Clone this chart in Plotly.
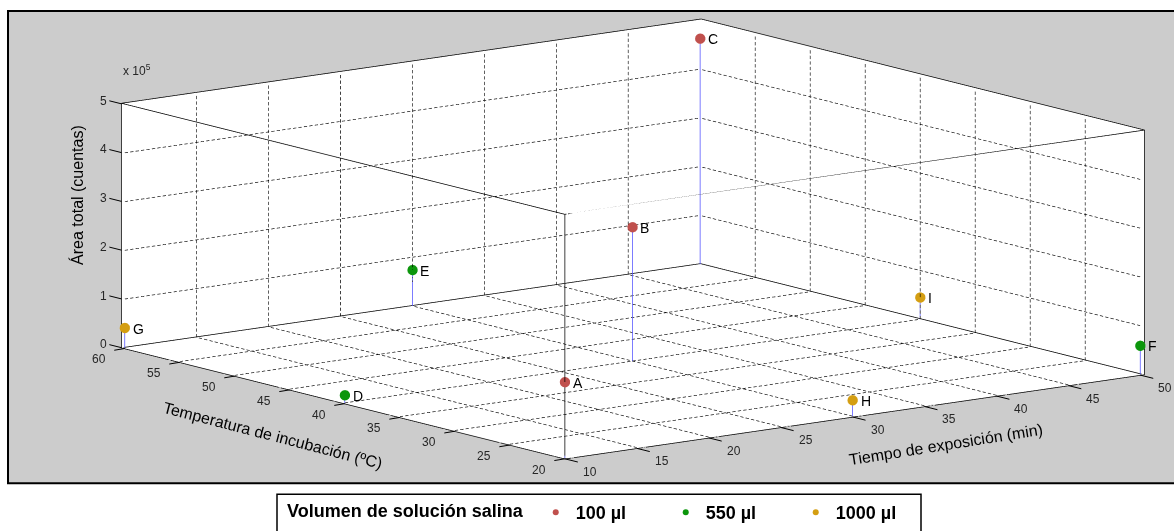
import numpy as np
import plotly.graph_objects as go

# Taguchi L9 runs: exposure time (min), incubation temperature (ºC), total area (counts)
labels = ["A", "B", "C", "D", "E", "F", "G", "H", "I"]
tiempo = [10, 30, 50, 10, 30, 50, 10, 30, 50]
temperatura = [20, 40, 60, 40, 60, 20, 60, 20, 40]
area = [1.56e5, 2.75e5, 4.63e5, 0.16e5, 0.74e5, 0.59e5, 0.41e5, 0.33e5, 0.45e5]
volumen = ["100 µl", "100 µl", "100 µl", "550 µl", "550 µl", "550 µl",
           "1000 µl", "1000 µl", "1000 µl"]

volumenes = ["100 µl", "550 µl", "1000 µl"]
colores = {"100 µl": "#c0504d", "550 µl": "#0c960c", "1000 µl": "#d49e12"}

x_ticks = [10, 15, 20, 25, 30, 35, 40, 45, 50]
y_ticks = [20, 25, 30, 35, 40, 45, 50, 55, 60]
z_ticks = [0, 1e5, 2e5, 3e5, 4e5, 5e5]
z_ticktext = ["0", "1", "2", "3", "4", "5"]

W, H = 1174, 531
FONT = "Liberation Sans, Arial, sans-serif"

x0, x1 = x_ticks[0], x_ticks[-1]
y0, y1 = y_ticks[0], y_ticks[-1]
z0, z1 = z_ticks[0], z_ticks[-1]

# back walls sit just beyond the last tick so points on them stay whole
pad_xy, pad_z = 0.3, 0.02e5
x1p, y1p = x1 + pad_xy, y1 + pad_xy

# dashed grid on the back walls and floor, built as short segments
gx, gy, gz = [], [], []
def dashed(p, q, n, on=0.6):
    p, q = np.array(p, float), np.array(q, float)
    for k in range(n):
        a = p + (q - p) * (k / n)
        b = p + (q - p) * ((k + on) / n)
        gx.extend([a[0], b[0], None]); gy.extend([a[1], b[1], None]); gz.extend([a[2], b[2], None])

N_X, N_Y, N_Z = 106, 83, 44   # dashes per grid line along each axis
for xv in x_ticks[1:-1]:
    dashed((xv, y1, z0), (xv, y1, z1), N_Z)      # wall at max temperature
    dashed((xv, y0, z0), (xv, y1, z0), N_Y)      # floor
for yv in y_ticks[1:-1]:
    dashed((x1, yv, z0), (x1, yv, z1), N_Z)      # wall at max time
    dashed((x0, yv, z0), (x1, yv, z0), N_X)      # floor
for zv in z_ticks[1:-1]:
    dashed((x0, y1, zv), (x1, y1, zv), N_X)
    dashed((x1, y0, zv), (x1, y1, zv), N_Y)

fig = go.Figure()
fig.add_trace(go.Scatter3d(x=gx, y=gy, z=gz, mode="lines",
                           line=dict(color="black", width=1.3),
                           hoverinfo="skip", showlegend=False))

# front box edges and the floor's back edges
ex, ey, ez = [], [], []
yb, xb = y1 + pad_xy*0.35, x1 + pad_xy*0.35
for p, q in [((x0, y0, z1), (x0, y1p, z1)), ((x0, y0, z1), (x1p, y0, z1)),
             ((x0, y0, z0), (x0, y0, z1)),
             ((x0, yb, z0), (xb, yb, z0)), ((xb, y0, z0), (xb, yb, z0))]:
    ex.extend([p[0], q[0], None]); ey.extend([p[1], q[1], None]); ez.extend([p[2], q[2], None])
fig.add_trace(go.Scatter3d(x=ex, y=ey, z=ez, mode="lines",
                           line=dict(color="black", width=1.5),
                           hoverinfo="skip", showlegend=False))

# stems
sx, sy, sz = [], [], []
for t, T, a in zip(tiempo, temperatura, area):
    sx.extend([t, t, None]); sy.extend([T, T, None]); sz.extend([0, a, None])
fig.add_trace(go.Scatter3d(x=sx, y=sy, z=sz, mode="lines",
                           line=dict(color="#5050ff", width=1.5),
                           hoverinfo="skip", showlegend=False))

# markers per saline volume
for v in volumenes:
    idx = [i for i, vv in enumerate(volumen) if vv == v]
    fig.add_trace(go.Scatter3d(
        x=[tiempo[i] for i in idx], y=[temperatura[i] for i in idx],
        z=[area[i] for i in idx], mode="markers", name=v,
        marker=dict(size=6, color=colores[v], line=dict(width=0)),
        hoverinfo="skip"))

# point letters, tick labels and tick marks, anchored in 3D and drawn flat on screen
notes = [dict(x=t, y=T, z=a, text=l, showarrow=False, xanchor="left",
              yanchor="middle", xshift=6,
              font=dict(family=FONT, size=14, color="black"))
         for l, t, T, a in zip(labels, tiempo, temperatura, area)]
tick_font = dict(family=FONT, size=12, color="#262626")
notes += [dict(x=x0, y=v, z=z0, text=str(v), showarrow=False, xanchor="center",
               yanchor="middle", xshift=-26, yshift=-11, font=tick_font) for v in y_ticks]
notes += [dict(x=v, y=y0, z=z0, text=str(v), showarrow=False, xanchor="center",
               yanchor="middle", xshift=25, yshift=-13, font=tick_font) for v in x_ticks]
notes += [dict(x=x0, y=y1, z=v, text=s, showarrow=False, xanchor="center",
               yanchor="middle", xshift=-21, yshift=4, font=tick_font)
          for v, s in zip(z_ticks, z_ticktext)]

def tick_mark(x, y, z, ax, ay):
    return dict(x=x, y=y, z=z, text=" ", font=dict(size=1), showarrow=True,
                arrowhead=0, arrowwidth=1, arrowcolor="black", ax=ax, ay=ay, standoff=0)

notes += [tick_mark(x0, v, z0, -12, 2) for v in y_ticks]
notes += [tick_mark(v, y0, z0, 14.5, 3.6) for v in x_ticks]
notes += [tick_mark(x0, y1p, v, -13.6, -3.4) for v in z_ticks]

# side edges and back top edges come from the axes; their own ticks stay invisible
axis_common = dict(showgrid=False, zeroline=False, showline=True, linecolor="black",
                   linewidth=1.5, mirror="all", ticks="outside", ticklen=0,
                   tickcolor="rgba(0,0,0,0)", showticklabels=True,
                   tickfont=dict(family=FONT, size=12, color="rgba(0,0,0,0)"),
                   showbackground=True, backgroundcolor="white", showspikes=False,
                   title=dict(text=""))

# view direction: azimuth ~232.7°, elevation ~11°
th, ph = np.radians(11.0), np.radians(232.7)
r = 8.0
eye = dict(x=r*np.cos(th)*np.cos(ph), y=r*np.cos(th)*np.sin(ph), z=r*np.sin(th))
zoom = 3.075

# scene viewport: 1082 x 477 px, centred where the box centre should land
cx, cy, half_w, half_h = 633, 241, 541, 238.5

# legend frame (the legend itself is borderless and sits inside it)
leg_l, leg_r, leg_t = 277, 921, 497

fig.update_layout(
    width=W, height=H, margin=dict(l=0, r=0, t=0, b=0),
    paper_bgcolor="white",
    scene=dict(
        domain=dict(x=[(cx-half_w)/W, (cx+half_w)/W],
                    y=[1-(cy+half_h)/H, 1-(cy-half_h)/H]),
        xaxis=dict(axis_common, range=[x0, x1p], tickvals=x_ticks),
        yaxis=dict(axis_common, range=[y0, y1p], tickvals=y_ticks),
        zaxis=dict(axis_common, range=[z0-pad_z, z1], tickvals=z_ticks),
        aspectmode="manual",
        aspectratio=dict(x=zoom, y=zoom*1.004, z=zoom*0.342),
        camera=dict(eye=eye, center=dict(x=0, y=0, z=0), up=dict(x=0, y=0, z=1),
                    projection=dict(type="orthographic")),
        bgcolor="rgba(0,0,0,0)",
        annotations=notes,
    ),
    shapes=[dict(type="rect", xref="paper", yref="paper", layer="below",
                 x0=8/W, x1=1.01, y0=1-486/H, y1=1-11/H,
                 fillcolor="#cccccc", line=dict(color="black", width=2)),
            dict(type="rect", xref="paper", yref="paper", layer="below",
                 x0=leg_l/W, x1=leg_r/W, y0=-0.05, y1=1-leg_t/H,
                 fillcolor="white", line=dict(color="black", width=1.5))],
    annotations=[
        dict(text="x 10<sup>5</sup>", x=137/W, y=1-70/H, xref="paper", yref="paper",
             xanchor="center", yanchor="middle",
             showarrow=False, font=dict(family=FONT, size=12, color="#262626")),
        dict(text="Área total (cuentas)", x=77/W, y=1-196/H, xref="paper", yref="paper",
             xanchor="center", yanchor="middle",
             textangle=-90, showarrow=False, font=dict(family=FONT, size=16, color="black")),
        dict(text="Temperatura de incubación (ºC)", x=273/W, y=1-438/H, xref="paper", yref="paper",
             xanchor="center", yanchor="middle",
             textangle=14.5, showarrow=False, font=dict(family=FONT, size=16, color="black")),
        dict(text="Tiempo de exposición (min)", x=946/W, y=1-447/H, xref="paper", yref="paper",
             xanchor="center", yanchor="middle",
             textangle=-9, showarrow=False, font=dict(family=FONT, size=16, color="black")),
    ],
    legend=dict(orientation="h", x=280/W, xanchor="left", y=1-497/H, yanchor="top",
                bgcolor="rgba(0,0,0,0)", borderwidth=0,
                font=dict(family=FONT, size=18, color="black", weight="bold"),
                title=dict(text="\u00a0Volumen de solución salina\u00a0", side="left",
                           font=dict(family=FONT, size=18, color="black", weight="bold")),
                entrywidth=85, entrywidthmode="pixels"),
)

fig.write_html("out.html")
